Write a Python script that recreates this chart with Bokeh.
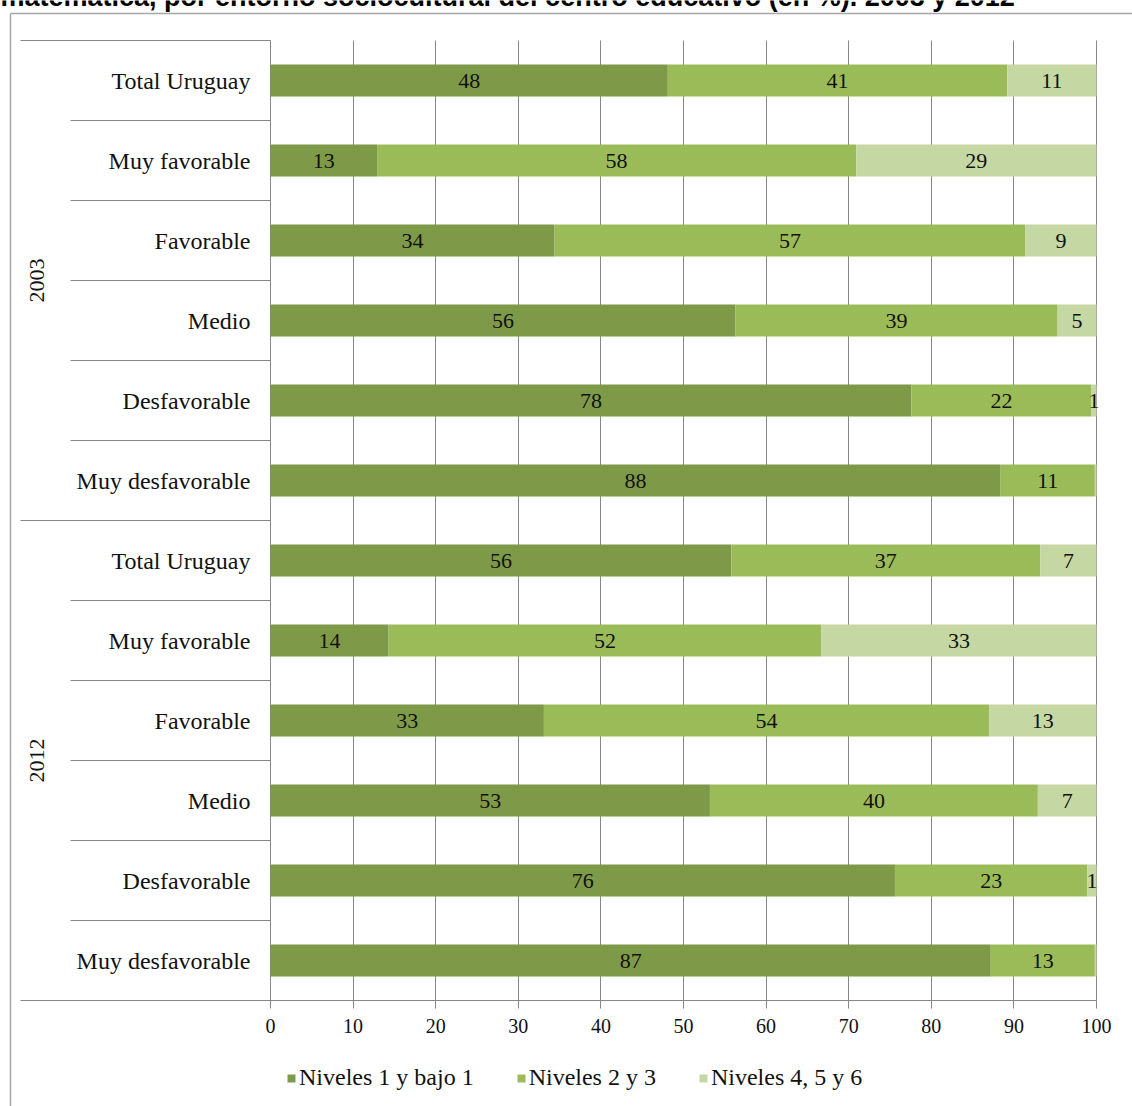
import math

from bokeh.core.properties import value
from bokeh.embed import file_html
from bokeh.models import (ColumnDataSource, FixedTicker, Label, Legend,
                          LegendItem, Range1d)
from bokeh.plotting import figure
from bokeh.resources import INLINE

# ---- data -------------------------------------------------------------
years = ["2003", "2012"]
entornos = ["Total Uruguay", "Muy favorable", "Favorable", "Medio",
            "Desfavorable", "Muy desfavorable"]
series = ["Niveles 1 y bajo 1", "Niveles 2 y 3", "Niveles 4, 5 y 6"]

# percentages per row, 2003 block first, then 2012
niv1 = [48.1, 12.9, 34.4, 56.3, 77.6, 88.4, 55.8, 14.3, 33.1, 53.2, 75.6, 87.2]
niv23 = [41.1, 58.0, 57.0, 39.0, 21.8, 11.4, 37.4, 52.4, 53.9, 39.7, 23.3, 12.6]
niv456 = [10.8, 29.1, 8.6, 4.7, 0.6, 0.2, 6.8, 33.3, 13.0, 7.1, 1.1, 0.2]

x_ticks = list(range(0, 101, 10))

title_text = ("matemática, por entorno sociocultural del centro educativo "
              "(en %). 2003 y 2012")

# ---- layout helpers -------------------------------------------------------
W, H = 1132, 1106
colors = ["#7E9A48", "#9BBB59", "#C5D7A2"]
line_gray = "#878787"
SERIF = "Liberation Serif"
serif = value(SERIF)
ink = "#111111"

n_rows = len(years) * len(entornos)

# the plotting frame fills the whole canvas; these map canvas pixels
# to data units so that the bar area sits where it should
X0_PX, X100_PX = 270, 1096         # value 0 and value 100
YTOP_PX, YBOT_PX = 40, 1000        # top and bottom of the row block
ux = (X100_PX - X0_PX) / 100.0
uy = (YBOT_PX - YTOP_PX) / n_rows


def xd(px):
    return (px - X0_PX) / ux


def yd(py):
    return (YBOT_PX - py) / uy


p = figure(width=W, height=H, output_backend="svg", toolbar_location=None,
           x_range=Range1d(xd(0), xd(W)), y_range=Range1d(yd(H), yd(0)),
           min_border=0)
p.outline_line_color = None
p.background_fill_color = "white"
p.border_fill_color = "white"

# rows top to bottom
rows = [n_rows - 0.5 - i for i in range(n_rows)]
labels = [e for _ in years for e in entornos]

# ---- grid (vertical lines only over the row block) -----------------------
p.ygrid.grid_line_color = None
p.xgrid.ticker = FixedTicker(ticks=x_ticks)
p.xgrid.grid_line_color = line_gray
try:
    p.xgrid.cross_bounds = (0, n_rows)
except AttributeError:
    p.xgrid.grid_line_color = None
    p.segment(x0=x_ticks, y0=[0] * len(x_ticks), x1=x_ticks,
              y1=[n_rows] * len(x_ticks), line_color=line_gray)

# ---- bars ------------------------------------------------------------
src = ColumnDataSource(dict(y=rows, n1=niv1, n23=niv23, n456=niv456))
bars = p.hbar_stack(["n1", "n23", "n456"], y="y", height=0.4, color=colors,
                    line_color=None, source=src)

# value labels centred in each segment
lx, ly, lt = [], [], []
for i in range(n_rows):
    left = 0.0
    for v in (niv1[i], niv23[i], niv456[i]):
        if round(v) >= 1:
            lx.append(left + v / 2.0)
            ly.append(rows[i])
            lt.append(str(round(v)))
        left += v
p.text(x=lx, y=ly, text=lt, text_align="center", text_baseline="middle",
       text_font=serif, text_font_size="22px", text_color=ink)

# ---- category axis drawn as a table ----------------------------------------
p.text(x=[0] * n_rows, y=rows, text=labels, x_offset=-20,
       text_align="right", text_baseline="middle",
       text_font=serif, text_font_size="24px", text_color=ink)

sx0, sy0 = [], []
for g in range(len(years)):
    top = n_rows - g * len(entornos)
    sx0.append(xd(20)); sy0.append(top)
    for k in range(1, len(entornos)):
        sx0.append(xd(70)); sy0.append(top - k)
p.segment(x0=sx0, y0=sy0, x1=[0] * len(sx0), y1=sy0,
          line_color=line_gray, line_width=1)

for g, yr in enumerate(years):
    yc = n_rows - g * len(entornos) - len(entornos) / 2.0
    p.add_layout(Label(x=xd(36), y=yc, text=yr, angle=math.pi / 2,
                       text_align="center", text_baseline="middle",
                       text_font=SERIF, text_font_size="22px",
                       text_color=ink))

# ---- value axis --------------------------------------------------------
p.yaxis.visible = False
p.xaxis.fixed_location = 0
p.xaxis.bounds = (xd(20), 100)
p.xaxis.ticker = FixedTicker(ticks=x_ticks)
p.xaxis.axis_line_color = line_gray
p.xaxis.major_tick_line_color = line_gray
p.xaxis.major_tick_out = 8
p.xaxis.major_tick_in = 0
p.xaxis.minor_tick_line_color = None
p.xaxis.major_label_standoff = 10
p.xaxis.major_label_text_font = SERIF
p.xaxis.major_label_text_font_size = "20px"
p.xaxis.major_label_text_color = ink

# ---- legend ------------------------------------------------------------
legend = Legend(items=[LegendItem(label=s, renderers=[r])
                       for s, r in zip(series, bars)],
                orientation="horizontal", location=(286, 15),
                glyph_width=10, glyph_height=10, label_standoff=3,
                spacing=42, padding=0, margin=0,
                border_line_color=None, background_fill_alpha=0,
                label_text_font=SERIF,
                label_text_font_size="24px", label_text_color=ink)
p.add_layout(legend, "center")

# ---- surrounding box and heading -----------------------------------------
bx_left, bx_top = xd(10), yd(13)
p.segment(x0=[bx_left, bx_left], y0=[bx_top, bx_top],
          x1=[bx_left, xd(W + 5)], y1=[yd(H + 5), bx_top],
          line_color="#A6A6A6", line_width=1.5)

p.text(x=[xd(0)], y=[yd(-4)], text=[title_text], text_align="left",
       text_baseline="alphabetic", text_font=value("Liberation Sans"),
       text_font_style="bold", text_font_size="27px", text_color="black")

open("out.html", "w").write(file_html(p, INLINE))
